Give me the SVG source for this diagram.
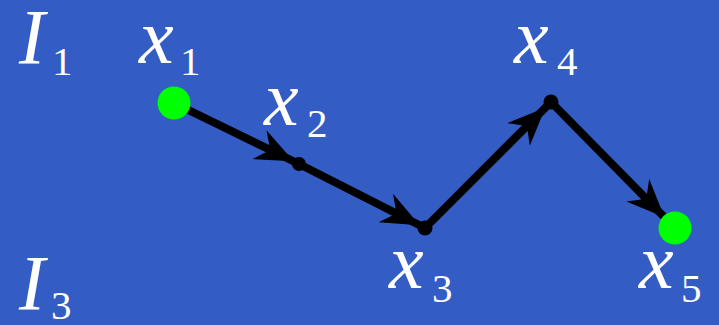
<svg xmlns="http://www.w3.org/2000/svg" width="719" height="325" viewBox="0 0 719 325">
<defs>
<style>
.m{font-family:"Liberation Serif","Times New Roman",serif;font-style:italic;fill:#fff;font-size:78px}
.s{font-family:"Liberation Serif","Times New Roman",serif;fill:#fff;font-size:41px}
.e{stroke:#000;stroke-width:8;fill:none}
.dot{fill:#000}
.g{fill:#00ff00}
</style>
<marker id="ah6" markerUnits="userSpaceOnUse" orient="auto" refX="6" refY="0" markerWidth="80" markerHeight="80" overflow="visible">
<path d="M0,0 L-38,-16 L-26,0 L-38,16 Z" fill="#000"/>
</marker>
<marker id="ah8" markerUnits="userSpaceOnUse" orient="auto" refX="8" refY="0" markerWidth="80" markerHeight="80" overflow="visible">
<path d="M0,0 L-38,-16 L-26,0 L-38,16 Z" fill="#000"/>
</marker>
<marker id="ah16" markerUnits="userSpaceOnUse" orient="auto" refX="15" refY="0" markerWidth="80" markerHeight="80" overflow="visible">
<path d="M0,0 L-38,-16 L-26,0 L-38,16 Z" fill="#000"/>
</marker>
</defs>
<rect x="0" y="0" width="719" height="325" fill="#335dc5"/>
<g id="regions">
<text class="m" x="19" y="63">I</text><text class="s" x="52" y="75">1</text>
<text class="m" x="19" y="309">I</text><text class="s" x="51" y="319">3</text>
</g>
<g id="connectors">
<line class="e" x1="174" y1="103" x2="299" y2="164" marker-end="url(#ah6)"/>
<line class="e" x1="299" y1="164" x2="425" y2="228" marker-end="url(#ah6)"/>
<line class="e" x1="425" y1="228" x2="551" y2="102" marker-end="url(#ah8)"/>
<line class="e" x1="551" y1="102" x2="675" y2="228" marker-end="url(#ah16)"/>
</g>
<g id="x1">
<circle class="g" cx="174" cy="103" r="16.5"/>
<text class="m" x="139" y="63">x</text><text class="s" x="180" y="75">1</text>
</g>
<g id="x2">
<circle class="dot" cx="299" cy="164" r="7"/>
<text class="m" x="264" y="125">x</text><text class="s" x="307" y="137">2</text>
</g>
<g id="x3">
<circle class="dot" cx="425" cy="228" r="7.5"/>
<text class="m" x="389" y="288">x</text><text class="s" x="432" y="302">3</text>
</g>
<g id="x4">
<circle class="dot" cx="551" cy="102" r="7.5"/>
<text class="m" x="514" y="63">x</text><text class="s" x="557" y="75">4</text>
</g>
<g id="x5">
<circle class="g" cx="675" cy="228" r="16.5"/>
<text class="m" x="639" y="288">x</text><text class="s" x="681" y="302">5</text>
</g>
</svg>
